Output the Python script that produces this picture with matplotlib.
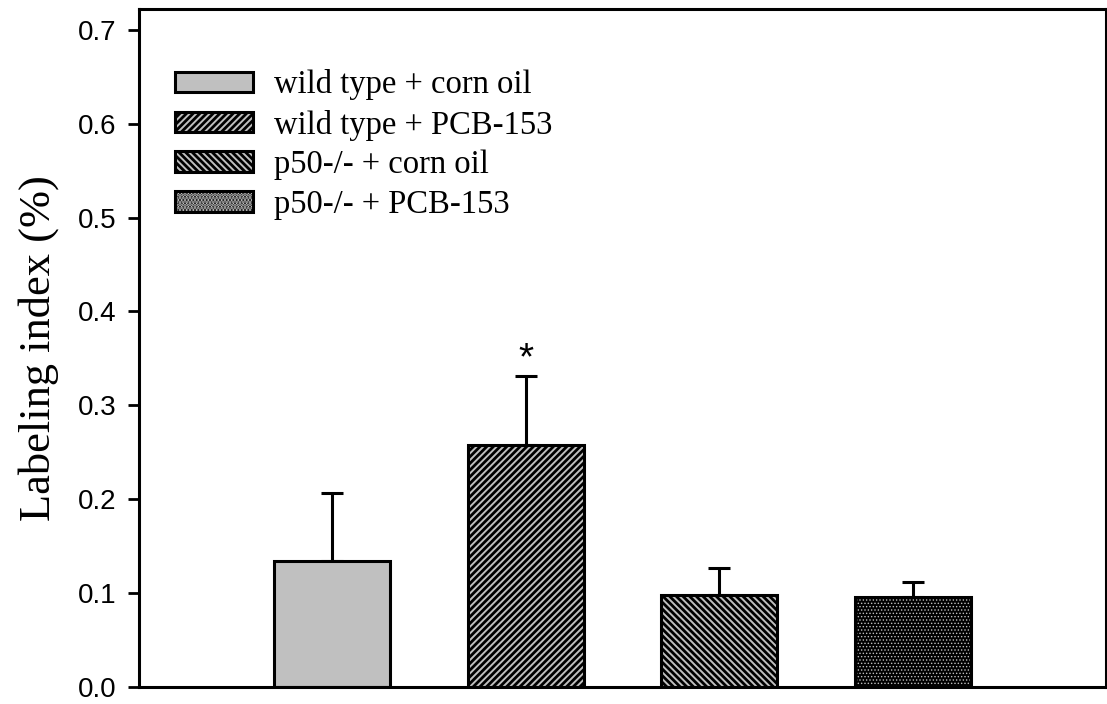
import matplotlib
matplotlib.use("Agg")
import matplotlib.pyplot as plt

# values
groups = ["wild type + corn oil", "wild type + PCB-153",
          "p50-/- + corn oil", "p50-/- + PCB-153"]
means = [0.134, 0.258, 0.098, 0.096]
errors = [0.073, 0.073, 0.029, 0.016]
signif = ["", "*", "", ""]
yticks = [0.0, 0.1, 0.2, 0.3, 0.4, 0.5, 0.6, 0.7]


def hatch_lw(bars, value):
    # per-patch hatch width where supported
    for p in bars:
        if hasattr(p, 'set_hatch_linewidth'):
            p.set_hatch_linewidth(value)


plt.rcParams['hatch.linewidth'] = 2.0

fig = plt.figure(figsize=(11.07, 7.04), dpi=100)
ax = fig.add_axes([0.1256, 0.0241, 0.8734, 0.9630])

x = [1, 2, 3, 4]
w = 0.6
edge = 'black'
lw = 2.2

b1 = ax.bar(x[0], means[0], w, color='#c0c0c0', edgecolor=edge, linewidth=lw, zorder=2)
b2 = ax.bar(x[1], means[1], w, color='#c0c0c0', edgecolor=edge, linewidth=lw,
            hatch='/////', zorder=2)
b3 = ax.bar(x[2], means[2], w, color='#c0c0c0', edgecolor=edge, linewidth=lw,
            hatch='\\\\\\\\\\', zorder=2)
# dotted bar: black fill with grey dots, outline drawn on top
b4fill = ax.bar(x[3], means[3], w, color='black', edgecolor='#c0c0c0', linewidth=0,
                hatch='.....', zorder=2)
hatch_lw(b4fill, 0.6)
b4line = ax.bar(x[3], means[3], w, color='none', edgecolor=edge, linewidth=lw, zorder=3)

ax.errorbar(x, means, yerr=[[0] * 4, errors], fmt='none', ecolor='black',
            elinewidth=2.2, capsize=8, capthick=2.2, zorder=1)

for xi, m, e, s in zip(x, means, errors, signif):
    if s:
        ax.annotate(s, (xi, m + e), xytext=(0, -1), textcoords='offset points',
                    ha='center', va='bottom', fontsize=28, family='Liberation Sans')

ax.set_xlim(0, 5)
ax.set_ylim(0, 0.722)
ax.set_yticks(yticks)
ax.set_yticklabels([f"{t:.1f}" for t in yticks])
ax.set_xticks([])
ax.tick_params(axis='y', direction='out', length=8, width=2, pad=8,
               labelsize=20, labelfontfamily='Liberation Sans')
for sp in ax.spines.values():
    sp.set_linewidth(2.2)

ax.set_ylabel("Labeling index (%)", family='Liberation Serif', fontsize=32, labelpad=14)

handles = [b1, b2, b3, (b4fill, b4line)]
ax.legend(handles, groups, loc='upper left', bbox_to_anchor=(0.037, 0.911),
          frameon=False, borderpad=0, borderaxespad=0,
          prop={'family': 'Liberation Serif', 'size': 23.5},
          handlelength=2.4, handleheight=0.6, handletextpad=0.65, labelspacing=0.28)

fig.savefig("out.png", dpi=100)
